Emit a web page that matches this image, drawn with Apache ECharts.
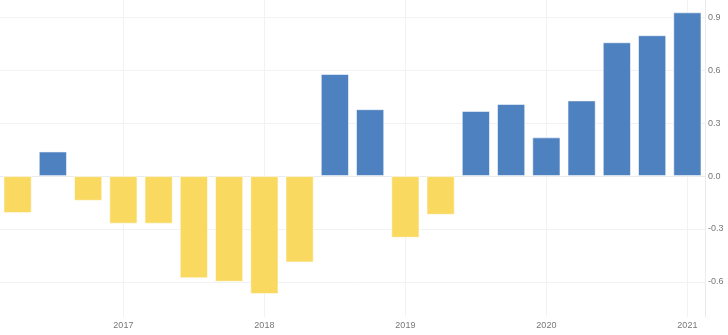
<!DOCTYPE html>
<html>
<head>
<meta charset="utf-8">
<script src="https://cdn.jsdelivr.net/npm/echarts@6/dist/echarts.min.js"></script>
<style>
  html, body { margin: 0; padding: 0; background: #fff; }
  #chart { width: 728px; height: 335px; }
</style>
</head>
<body>
<div id="chart"></div>
<script>
// Quarterly values, 2016 Q2 – 2021 Q1
const quarters = [
  '2016 Q2', '2016 Q3', '2016 Q4',
  '2017 Q1', '2017 Q2', '2017 Q3', '2017 Q4',
  '2018 Q1', '2018 Q2', '2018 Q3', '2018 Q4',
  '2019 Q1', '2019 Q2', '2019 Q3', '2019 Q4',
  '2020 Q1', '2020 Q2', '2020 Q3', '2020 Q4',
  '2021 Q1'
];
const values = [
  -0.21, 0.14, -0.14,
  -0.27, -0.27, -0.58, -0.60,
  -0.67, -0.49, 0.58, 0.38,
  -0.35, -0.22, 0.37, 0.41,
  0.22, 0.43, 0.76, 0.80,
  0.93
];
const yTicks = [-0.6, -0.3, 0, 0.3, 0.6, 0.9];

const POS = '#4e81bf';
const NEG = '#f9d95f';
const LABEL_FONT = '"Liberation Sans", Arial, sans-serif';

const chart = echarts.init(document.getElementById('chart'), null, { renderer: 'canvas' });
chart.setOption({
  animation: false,
  backgroundColor: '#ffffff',
  grid: { left: 0, right: 23, top: 0, bottom: 18 },
  xAxis: {
    type: 'category',
    data: quarters,
    boundaryGap: true,
    axisLine: { show: true, lineStyle: { color: '#ebebeb', width: 1 } },
    axisTick: { show: false, alignWithLabel: true, interval: (i) => i % 4 === 3 },
    axisLabel: {
      interval: (i) => i % 4 === 3,
      formatter: (v) => v.slice(0, 4),
      color: '#777',
      fontSize: 9,
      fontFamily: LABEL_FONT,
      margin: 4
    },
    splitLine: {
      show: true,
      alignWithLabel: true,
      interval: (i) => i % 4 === 3,
      lineStyle: { color: '#f2f2f2', width: 1 }
    }
  },
  yAxis: {
    type: 'value',
    position: 'right',
    min: -0.8,
    max: 1.0,
    axisLine: { show: true, lineStyle: { color: '#ebebeb', width: 1 } },
    axisTick: { show: false, customValues: yTicks },
    axisLabel: {
      customValues: yTicks,
      formatter: (v) => v.toFixed(1),
      color: '#777',
      fontSize: 9,
      fontFamily: LABEL_FONT,
      margin: 3
    },
    splitLine: { show: true, lineStyle: { color: '#f2f2f2', width: 1 } }
  },
  series: [{
    type: 'bar',
    data: values.map((v) => ({
      value: v,
      itemStyle: { color: v >= 0 ? POS : NEG }
    })),
    barCategoryGap: '20%',
    itemStyle: { borderColor: 'rgba(255,255,255,0.55)', borderWidth: 1 }
  }]
});
</script>
</body>
</html>
